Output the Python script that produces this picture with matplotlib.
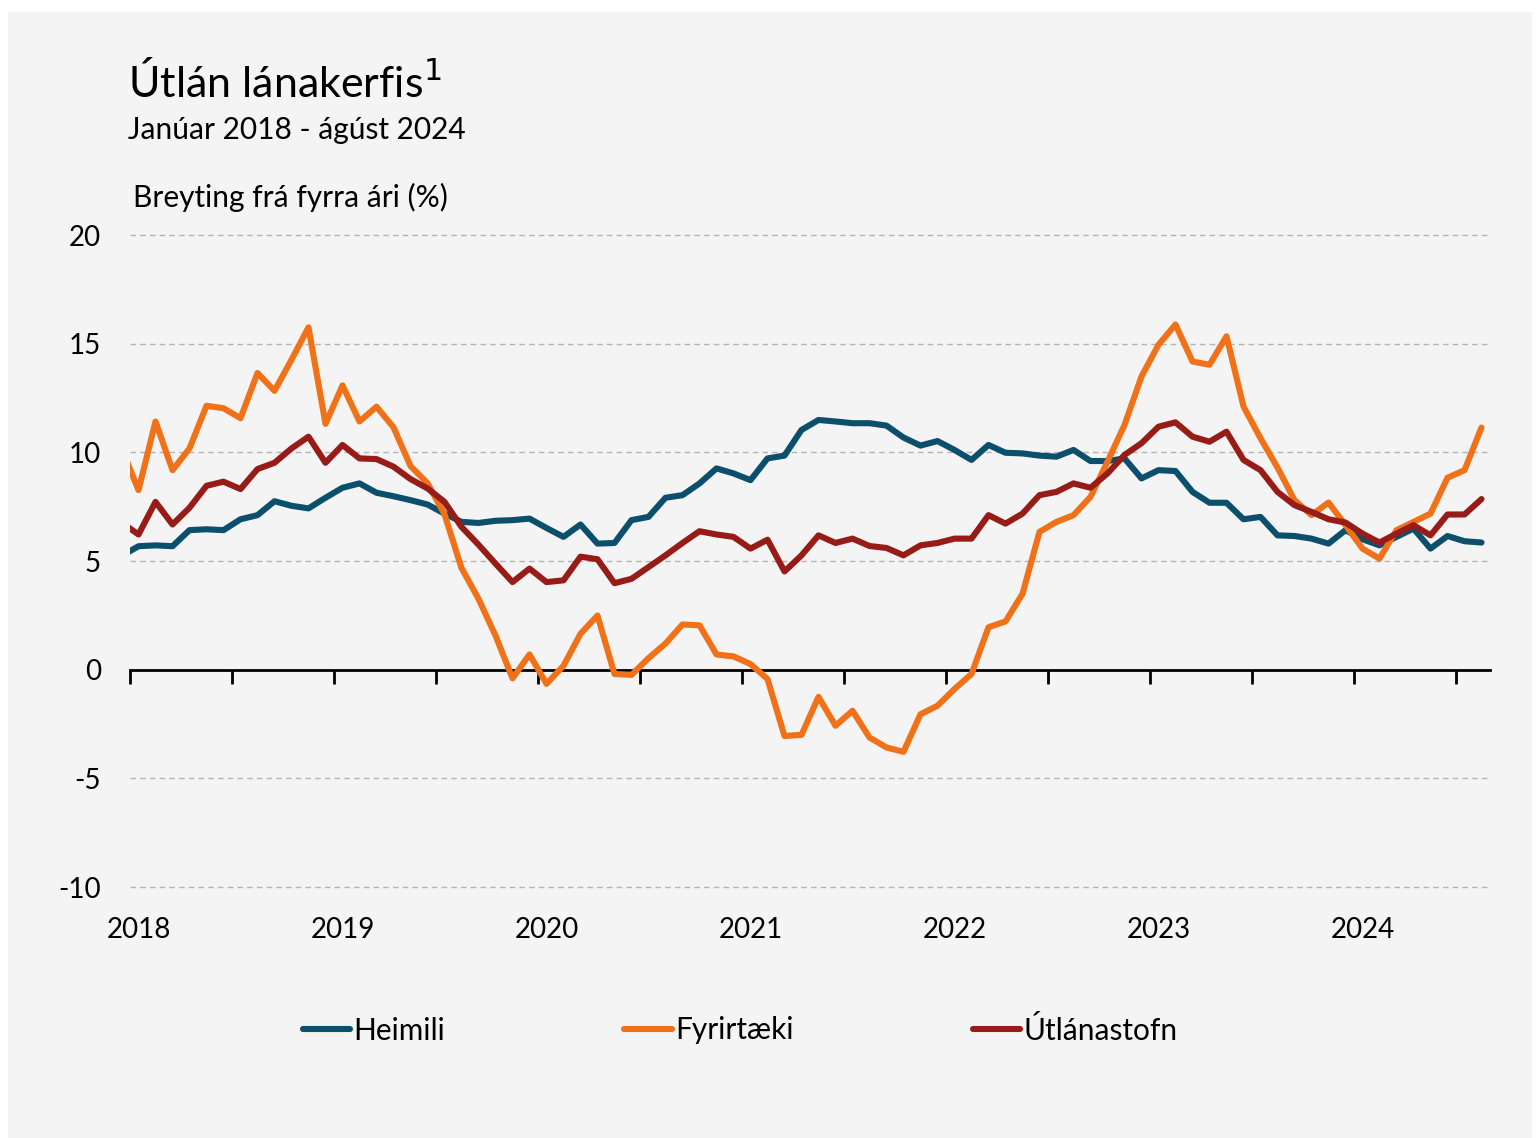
import numpy as np
import matplotlib
matplotlib.use("Agg")
import matplotlib.pyplot as plt
import matplotlib.transforms as mtransforms
from matplotlib.patches import Rectangle

plt.rcParams['font.family'] = ['Lato', 'DejaVu Sans']
plt.rcParams['axes.unicode_minus'] = False

# Monthly data, Dec 2017 (just outside the axis, clipped) to Aug 2024
months = np.arange(-1, 80)

heimili = [5.23,
           5.68, 5.72, 5.68, 6.42, 6.46, 6.42, 6.92, 7.11, 7.75, 7.54, 7.42, 7.91,
           8.37, 8.57, 8.14, 7.98, 7.80, 7.60, 7.18, 6.80, 6.75, 6.85, 6.88, 6.95,
           6.52, 6.11, 6.68, 5.80, 5.83, 6.88, 7.03, 7.91, 8.03, 8.57, 9.26, 9.03,
           8.72, 9.72, 9.85, 11.03, 11.49, 11.42, 11.34, 11.34, 11.23, 10.68, 10.31, 10.52,
           10.11, 9.65, 10.34, 9.98, 9.95, 9.85, 9.80, 10.11, 9.60, 9.60, 9.72, 8.80,
           9.18, 9.14, 8.18, 7.68, 7.68, 6.92, 7.03, 6.18, 6.15, 6.03, 5.80, 6.42,
           6.00, 5.72, 6.11, 6.49, 5.57, 6.15, 5.91, 5.85]

fyrirtaeki = [10.2,
              8.26, 11.42, 9.18, 10.18, 12.14, 12.03, 11.57, 13.65, 12.83, 14.26, 15.75, 11.31,
              13.08, 11.42, 12.10, 11.15, 9.37, 8.58, 7.15, 4.68, 3.26, 1.57, -0.40, 0.70,
              -0.65, 0.18, 1.65, 2.49, -0.20, -0.24, 0.53, 1.20, 2.08, 2.04, 0.70, 0.61,
              0.26, -0.43, -3.05, -3.00, -1.25, -2.58, -1.89, -3.12, -3.58, -3.78, -2.05, -1.66,
              -0.89, -0.20, 1.95, 2.22, 3.49, 6.34, 6.80, 7.11, 7.95, 9.57, 11.26, 13.49,
              14.95, 15.88, 14.18, 14.03, 15.34, 12.11, 10.65, 9.30, 7.80, 7.11, 7.69, 6.65,
              5.57, 5.11, 6.42, 6.80, 7.18, 8.83, 9.18, 11.14]

utlanastofn = [6.77,
               6.22, 7.72, 6.68, 7.45, 8.46, 8.65, 8.31, 9.23, 9.52, 10.18, 10.72, 9.52,
               10.34, 9.72, 9.69, 9.34, 8.77, 8.34, 7.72, 6.57, 5.75, 4.88, 4.03, 4.65,
               4.03, 4.11, 5.20, 5.08, 3.98, 4.18, 4.72, 5.26, 5.83, 6.37, 6.22, 6.11,
               5.57, 5.98, 4.52, 5.26, 6.18, 5.83, 6.03, 5.69, 5.60, 5.26, 5.72, 5.83,
               6.03, 6.03, 7.11, 6.72, 7.18, 8.03, 8.18, 8.57, 8.37, 9.03, 9.88, 10.42,
               11.18, 11.38, 10.72, 10.49, 10.95, 9.65, 9.18, 8.18, 7.57, 7.26, 6.92, 6.77,
               6.26, 5.85, 6.26, 6.65, 6.18, 7.14, 7.14, 7.85]

years = ['2018', '2019', '2020', '2021', '2022', '2023', '2024']
yticks = [20, 15, 10, 5, 0, -5, -10]

fig = plt.figure(figsize=(15.38, 11.38), dpi=100, facecolor='white')
# light grey panel behind everything
fig.patches.append(Rectangle((8 / 1538, 0), 1524 / 1538, 1126 / 1138,
                             transform=fig.transFigure, facecolor='#f4f4f4',
                             edgecolor='none', zorder=-10))

ax = fig.add_axes([130 / 1538, 1 - 887 / 1138, 1360 / 1538, 652 / 1138])
ax.patch.set_alpha(0)

style = dict(lw=4.4, zorder=3, solid_capstyle='round')
ax.plot(months, heimili, color='#0b4f6c', label='Heimili', **style)
ax.plot(months, fyrirtaeki, color='#f07117', label='Fyrirtæki', **style)
ax.plot(months, utlanastofn, color='#971b17', label='Útlánastofn', **style)

ax.set_xlim(-0.5, 79.5)
ax.set_ylim(-10, 20)

# dashed grid, solid zero line with tick marks every half year
for y in yticks:
    if y != 0:
        ax.axhline(y, color='#b4b4b4', lw=1.0, ls=(0, (4, 3)), zorder=1, clip_on=False)
for s in ['top', 'right', 'left']:
    ax.spines[s].set_visible(False)
ax.spines['bottom'].set_position(('data', 0))
ax.spines['bottom'].set_linewidth(2)
ax.spines['bottom'].set_zorder(2)

ax.set_xticks(np.arange(-0.5, 79, 6))
ax.set_xticklabels([])
ax.tick_params(axis='x', direction='out', length=10, width=2, color='black')

ax.set_yticks(yticks)
ax.set_yticklabels([str(v) for v in yticks], fontsize=20)
ax.tick_params(axis='y', length=0, pad=21)

trans = mtransforms.blended_transform_factory(ax.transData, ax.transAxes)
for k, yr in enumerate(years):
    ax.text(12 * k, -0.066, yr, transform=trans, ha='center', va='center', fontsize=20)

# titles
fig.text(128 / 1538, 1 - 82 / 1138, 'Útlán lánakerfis$^{1}$', fontsize=31, va='center')
fig.text(128 / 1538, 1 - 130 / 1138, 'Janúar 2018 - ágúst 2024', fontsize=21.5, va='center')
fig.text(133 / 1538, 1 - 197 / 1138, 'Breyting frá fyrra ári (%)', fontsize=21.5, va='center')

fig.legend(loc='center', bbox_to_anchor=(740 / 1538, 1 - 1030 / 1138), ncol=3,
           frameon=False, fontsize=21.5, handlelength=1.6, handletextpad=0.1,
           columnspacing=6.0)

fig.savefig('out.png', dpi=100, facecolor=fig.get_facecolor())
